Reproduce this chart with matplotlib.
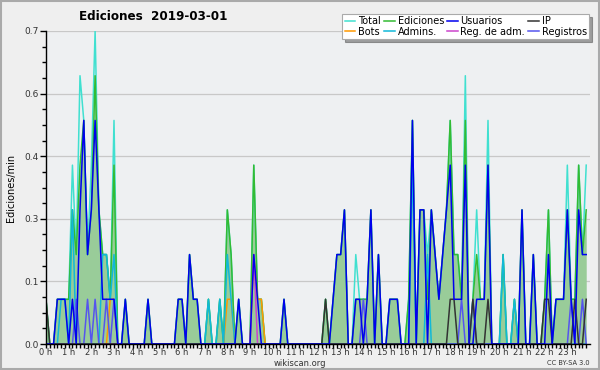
import numpy as np
import matplotlib
matplotlib.use("Agg")
import matplotlib.pyplot as plt
from matplotlib.patches import Rectangle

# ---- data: edits per minute in 10-minute bins (144 bins over the day) ----
total = [.1,0,0,.1,.1,.1,.1,.4,.2,.6,.5,.2,
         .4,.7,.3,.2,.2,.1,.5,0,0,.1,0,0,
         0,0,0,.1,0,0,0,0,0,0,0,.1,
         .1,0,.2,.1,.1,0,0,.1,0,0,.1,0,
         .3,.2,0,.1,0,0,0,.4,.1,.1,0,0,
         0,0,0,.1,0,0,0,0,0,0,0,0,
         0,0,.1,0,.1,.2,.2,.3,0,0,.2,.1,
         .1,.1,.3,0,.2,0,0,.1,.1,.1,0,0,
         .1,.5,0,.3,.3,.2,.3,.2,.1,.2,.3,.5,
         .2,.2,.1,.6,0,.1,.3,.1,.1,.5,0,0,
         0,.2,0,0,.1,0,.3,0,0,.2,0,0,
         .1,.3,0,.1,.1,.1,.4,.1,.1,.4,.2,.4]
edits = [.1,0,0,.1,.1,.1,.1,.3,.2,.4,.5,.2,
         .3,.6,.3,.2,.2,.1,.4,0,0,.1,0,0,
         0,0,0,.1,0,0,0,0,0,0,0,.1,
         .1,0,.2,.1,.1,0,0,.1,0,0,.1,0,
         .3,.2,0,.1,0,0,0,.4,.1,.1,0,0,
         0,0,0,.1,0,0,0,0,0,0,0,0,
         0,0,.1,0,.1,.2,.2,.3,0,0,.1,.1,
         .1,.1,.3,0,.2,0,0,.1,.1,.1,0,0,
         .1,.5,0,.3,.3,.1,.3,.2,.1,.2,.3,.5,
         .2,.2,.1,.5,0,.1,.2,.1,.1,.4,0,0,
         0,.2,0,0,.1,0,.3,0,0,.2,0,0,
         .1,.3,0,.1,.1,.1,.3,.1,.1,.4,.2,.3]
users = [0,0,0,.1,.1,.1,0,.1,0,.3,.5,.2,
         .3,.5,.3,.1,.1,.1,.1,0,0,.1,0,0,
         0,0,0,.1,0,0,0,0,0,0,0,.1,
         .1,0,.2,.1,.1,0,0,0,0,0,0,0,
         0,0,0,.1,0,0,0,.2,.1,0,0,0,
         0,0,0,.1,0,0,0,0,0,0,0,0,
         0,0,0,0,.1,.2,.2,.3,0,0,.1,.1,
         0,.1,.3,0,.2,0,0,.1,.1,.1,0,0,
         0,.5,0,.3,.3,0,.3,.2,.1,.2,.3,.4,
         .1,.1,.1,.4,0,0,.1,.1,.1,.4,0,0,
         0,0,0,0,0,0,.3,0,0,.2,0,0,
         0,.2,0,.1,.1,.1,.3,.1,0,.3,.2,.2]
ip = [.1,0,0,0,0,0,0,0,0,0,0,0,
      0,0,0,0,0,0,0,0,0,0,0,0,
      0,0,0,0,0,0,0,0,0,0,0,0,
      0,0,0,0,0,0,0,0,0,0,0,0,
      0,0,0,0,0,0,0,0,0,0,0,0,
      0,0,0,0,0,0,0,0,0,0,0,0,
      0,0,.1,0,0,0,0,0,0,0,0,0,
      0,0,0,0,0,0,0,0,0,0,0,0,
      0,0,0,0,0,0,0,0,0,0,0,.1,
      .1,0,0,0,0,.1,0,0,0,.1,0,0,
      0,0,0,0,0,0,0,0,0,0,0,0,
      .1,.1,0,0,0,0,0,0,.1,0,0,.1]
bots = [0,0,0,0,0,0,0,0,0,0,0,0,
        0,0,0,0,0,.1,.1,0,0,0,0,0,
        0,0,0,0,0,0,0,0,0,0,0,0,
        0,0,0,0,0,0,0,0,0,0,0,0,
        .1,.1,0,0,0,0,0,.2,.1,.1,0,0,
        0,0,0,0,0,0,0,0,0,0,0,0,
        0,0,0,0,0,0,0,0,0,0,0,0,
        0,0,0,0,0,0,0,0,0,0,0,0,
        0,0,0,0,0,0,0,0,0,0,0,0,
        0,0,0,0,0,0,0,0,0,0,0,0,
        0,0,0,0,0,0,0,0,0,0,0,0,
        0,0,0,0,0,0,0,0,0,0,0,0]
admins = [0,0,0,0,.1,.1,0,.3,0,0,0,0,
          0,0,0,.2,.2,.1,.2,0,0,0,0,0,
          0,0,0,0,0,0,0,0,0,0,0,0,
          0,0,0,0,0,0,0,.1,0,0,.1,0,
          .2,.1,0,0,0,0,0,0,0,0,0,0,
          0,0,0,0,0,0,0,0,0,0,0,0,
          0,0,0,0,0,0,0,0,0,0,0,0,
          0,0,0,0,0,0,0,0,0,0,0,0,
          0,.4,0,0,0,.2,0,0,0,0,0,0,
          0,0,0,0,0,0,0,0,0,0,0,0,
          0,.2,0,0,.1,0,0,0,0,0,0,0,
          0,0,0,0,0,0,0,0,0,0,0,0]
regadm = [0,0,0,0,0,0,0,0,0,0,0,0,
          0,0,0,0,0,0,0,0,0,0,0,0,
          0,0,0,0,0,0,0,0,0,0,0,0,
          0,0,0,0,0,0,0,0,0,0,0,0,
          0,0,0,0,0,0,0,.2,0,0,0,0,
          0,0,0,0,0,0,0,0,0,0,0,0,
          0,0,0,0,0,0,0,0,0,0,0,0,
          0,0,0,0,0,0,0,0,0,0,0,0,
          0,0,0,0,0,0,0,0,0,0,0,0,
          0,0,0,0,0,0,0,0,0,0,0,0,
          0,0,0,0,0,0,0,0,0,0,0,0,
          0,0,0,0,0,0,0,0,0,0,0,0]
registros = [0,0,0,0,0,0,0,0,.1,0,0,.1,
             0,.1,0,0,.1,0,.1,0,0,0,0,0,
             0,0,0,0,0,0,0,0,0,0,0,0,
             0,0,0,0,0,0,0,0,0,0,0,0,
             0,0,0,0,0,0,0,0,0,0,0,0,
             0,0,0,0,0,0,0,0,0,0,0,0,
             0,0,0,0,0,0,0,0,0,0,0,0,
             .1,0,0,0,0,0,0,0,0,0,0,0,
             0,0,0,0,0,0,0,0,0,0,0,0,
             0,0,.1,0,0,.1,0,0,0,0,0,0,
             0,0,0,0,0,0,0,0,0,0,0,0,
             0,0,0,0,0,0,0,.1,0,0,.1,0]
hour_labels = [f"{h} h" for h in range(24)]
ymax = 0.7

x = np.arange(len(total)) / 6.0

fig = plt.figure(figsize=(6, 3.7), dpi=100, facecolor="#efefef")
ax = fig.add_axes([46/600, 26/370, 544/600, 313/370])
ax.set_facecolor("#eef0f2")

lw = 1.1
ax.fill_between(x, edits, 0, color="#99cc99", lw=0, zorder=1)
h_total, = ax.plot(x, total, color="#40e0d0", lw=lw, zorder=2, label="Total")
h_edits, = ax.plot(x, edits, color="#33bb33", lw=lw, zorder=3, label="Ediciones")
h_bots, = ax.plot(x, bots, color="#ff9900", lw=lw, zorder=4, label="Bots")
h_reg, = ax.plot(x, regadm, color="#cc44cc", lw=lw, zorder=4, label="Reg. de adm.")
h_admins, = ax.plot(x, admins, color="#11b8d8", lw=lw, zorder=5, label="Admins.")
h_regs, = ax.plot(x, registros, color="#5555ee", lw=lw, zorder=5, label="Registros")
h_ip, = ax.plot(x, ip, color="#333333", lw=lw, zorder=6, label="IP")
h_users, = ax.plot(x, users, color="#0000ee", lw=lw, zorder=7, label="Usuarios")

ax.set_xlim(0, 24)
ax.set_ylim(0, ymax)

yt = np.linspace(0, ymax, 6)
ax.set_yticks(yt)
ax.set_yticklabels([f"{v:.1f}" for v in yt])
ax.set_yticks(np.linspace(0, ymax, 21), minor=True)
ax.set_xticks(np.arange(24))
ax.set_xticklabels(hour_labels)
ax.set_xticks(np.arange(0, 24, 1/6), minor=True)

ax.tick_params(axis="y", which="major", direction="out", length=4, width=1,
               labelsize=6.5, colors="#000000", labelcolor="#333333", pad=1)
ax.tick_params(axis="x", which="major", direction="out", length=3, width=1,
               labelsize=6, colors="#000000", labelcolor="#333333", pad=0)
ax.tick_params(axis="both", which="minor", direction="out", length=3, width=1)
ax.grid(axis="y", which="major", color="#c8c8c8", lw=0.9, zorder=0)
ax.set_axisbelow(True)
for s in ["top", "right"]:
    ax.spines[s].set_visible(False)
for s in ["left", "bottom"]:
    ax.spines[s].set_linewidth(1.0)
    ax.spines[s].set_zorder(10)

ax.set_ylabel("Ediciones/min", fontsize=7, labelpad=6)

fig.text(153/600, 1 - 17/370, "Ediciones  2019-03-01", fontsize=9.5, fontweight="bold",
         fontstretch="condensed", family="DejaVu Sans", ha="center", va="center")
fig.text(300/600, 1 - 363/370, "wikiscan.org", fontsize=6, ha="center", va="center",
         color="#333333")
fig.text(590/600, 1 - 363/370, "CC BY-SA 3.0", fontsize=4.8, ha="right", va="center",
         color="#333333")

handles = [h_total, h_bots, h_edits, h_admins, h_users, h_reg, h_ip, h_regs]
leg = fig.legend(handles=handles, labels=[h.get_label() for h in handles],
                 ncol=4, loc="upper right", bbox_to_anchor=(594/600, 1 - 9/370),
                 fontsize=7, handlelength=1.1, handletextpad=0.3, columnspacing=0.3,
                 labelspacing=0.05, borderpad=0.25, fancybox=False, shadow=True,
                 framealpha=1, edgecolor="#aaaaaa")
leg.get_frame().set_linewidth(0.8)

fig.patches.append(Rectangle((0.002, 0.002), 0.996, 0.995, transform=fig.transFigure,
                             fill=False, edgecolor="#aaaaaa", lw=1.5))

fig.savefig("out.png", dpi=100, facecolor=fig.get_facecolor())
